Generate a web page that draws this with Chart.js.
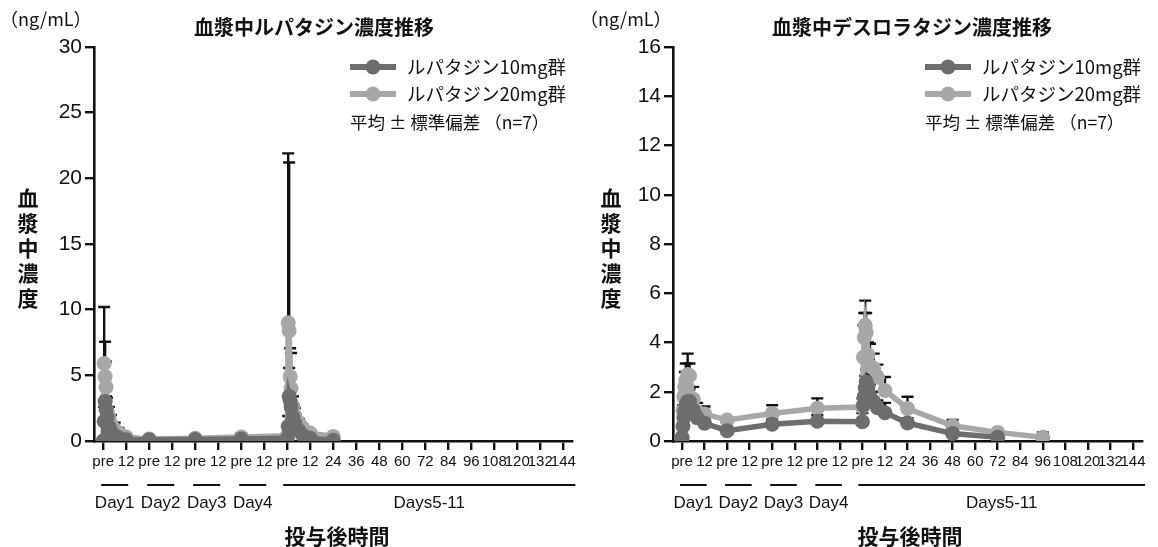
<!DOCTYPE html>
<html>
<head>
<meta charset="utf-8">
<script src="https://cdn.jsdelivr.net/npm/chart.js@4.4.1/dist/chart.umd.min.js"></script>
<style>
  html, body { margin: 0; padding: 0; background: #fff; }
  #wrap { position: relative; width: 1158px; height: 547px; overflow: hidden; }
  .panel { position: absolute; top: 0; height: 547px; }
  #pL { left: 0; width: 580px; }
  #pR { left: 580px; width: 578px; }
</style>
</head>
<body>
<div id="wrap">
  <div class="panel" id="pL"><canvas id="cL" width="580" height="547"></canvas></div>
  <div class="panel" id="pR"><canvas id="cR" width="578" height="547"></canvas></div>
</div>
<script>
// ---- shared axis text ----
const xTickLabels = ['pre','12','pre','12','pre','12','pre','12','pre','12',
  '24','36','48','60','72','84','96','108','120','132','144'];
const dayGroupLabels = ['Day1', 'Day2', 'Day3', 'Day4', 'Days5-11'];
const dayGroupFrom   = [0, 2, 4, 6, 8];
const dayGroupTo     = [1, 3, 5, 7, 20];
const seriesNames = ['ルパタジン10mg群', 'ルパタジン20mg群'];
const statNote = '平均 ± 標準偏差 （n=7）';
const yTitle = '血漿中濃度';
const xTitle = '投与後時間';
const unitText = '（ng/mL）';

// ---- sampling schedule (day of dosing, hours after dose) ----
const sampleDay  = [1,1,1,1,1,1,1,1,1,1, 2,3,4, 5,5,5,5,5,5,5,5,5,5, 5,5,5,5];
const sampleHour = [0,0.5,1,1.5,2,3,4,6,8,12, 0,0,0, 0,0.5,1,1.5,2,3,4,6,8,12, 24,48,72,96];

// ---- rupatadine (ng/mL) ----
const rupaTitle = '血漿中ルパタジン濃度推移';
const rupaYMax = 30, rupaYStep = 5;
const rupa10Mean = [0, 1.5, 3.0, 2.4, 1.8, 1.1, 0.7, 0.4, 0.25, 0.1,
  0.1, 0.12, 0.15,
  0.2, 1.1, 3.4, 3.1, 2.6, 1.8, 1.3, 0.8, 0.45, 0.2,
  0.05, null, null, null];
const rupa10SD = [0, 1.1, 1.8, 1.0, 0.8, 0.5, 0.3, 0.2, 0.1, 0.05,
  0.05, 0.05, 0.1,
  0.3, 0.8, 2.16, 0.7, 0.6, 0.5, 0.3, 0.2, 0.1, 0.08,
  0.02, null, null, null];
const rupa20Mean = [0, 5.9, 4.9, 4.1, 2.3, 1.8, 1.3, 0.9, 0.6, 0.3,
  0.15, 0.2, 0.3,
  0.4, 9.0, 8.4, 4.9, 4.0, 2.6, 1.9, 1.4, 1.0, 0.6,
  0.35, null, null, null];
const rupa20SD = [0, 4.3, 2.66, 1.94, 1.0, 0.8, 0.68, 0.5, 0.39, 0.15,
  0.1, 0.1, 0.3,
  0.7, 12.9, 12.8, 2.16, 2.7, 0.8, 0.6, 0.3, 0.25, 0.2,
  0.1, null, null, null];

// ---- desloratadine (ng/mL) ----
const deslTitle = '血漿中デスロラタジン濃度推移';
const deslYMax = 16, deslYStep = 2;
const desl10Mean = [0.15, 0.6, 0.95, 1.2, 1.45, 1.6, 1.6, 1.25, 0.95, 0.72,
  0.42, 0.68, 0.8,
  0.78, 1.45, 1.8, 2.15, 2.4, 2.2, 1.8, 1.6, 1.35, 1.15,
  0.73, 0.3, 0.15, null];
const desl10SD = [0, 0.3, 0.35, 0.4, 0.4, 0.55, 0.5, 0.35, 0.25, 0.2,
  0.15, 0.2, 0.25,
  0.35, 0.3, 0.4, 0.5, 0.5, 0.5, 0.5, 0.4, 0.3, 0.4,
  0.2, 0.15, 0.08, null];
const desl20Mean = [0.1, 1.25, 1.8, 2.2, 2.45, 2.7, 2.65, 1.7, 1.2, 1.1,
  0.85, 1.12, 1.33,
  1.38, 3.4, 4.2, 4.7, 4.4, 3.5, 3.05, 2.95, 2.6, 2.05,
  1.32, 0.62, 0.35, 0.15];
const desl20SD = [0, 0.2, 0.4, 0.6, 0.7, 0.85, 0.5, 0.5, 0.35, 0.3,
  0.1, 0.33, 0.4,
  0.35, 1.3, 1.0, 1.0, 0.8, 0.5, 0.9, 0.6, 0.5, 0.55,
  0.48, 0.23, 0.1, 0.2];

const color10 = '#6d6d6d';
const color20 = '#a7a7a7';
const inkColor = '#111111';
const jpFont = '"Noto Sans CJK JP", "Noto Sans", sans-serif';
const numFont = '"Liberation Sans Narrow", "Liberation Sans", Arial, sans-serif';

// x position: two axis units per dosing day (pre, 12 h), 12 h per unit
function xOf(i) { return (sampleDay[i] - 1) * 2 + sampleHour[i] / 12; }

function points(mean, sd) {
  const out = [];
  for (let i = 0; i < mean.length; i++) {
    if (mean[i] === null) continue;
    out.push({ x: xOf(i), y: mean[i], sd: sd[i] });
  }
  return out;
}

// upward-only SD whiskers with a cap, drawn beneath the markers
const sdWhiskers = {
  id: 'sdWhiskers',
  beforeDatasetsDraw(chart) {
    const { ctx, chartArea, scales } = chart;
    ctx.save();
    ctx.beginPath();
    ctx.rect(chartArea.left, chartArea.top - 2, chartArea.right - chartArea.left, chartArea.bottom - chartArea.top + 2);
    ctx.clip();
    ctx.strokeStyle = inkColor;
    ctx.lineWidth = 2.4;
    chart.data.datasets.forEach(ds => {
      ds.data.forEach(p => {
        if (!p.sd) return;
        const px = scales.x.getPixelForValue(p.x);
        const y0 = scales.y.getPixelForValue(p.y);
        const y1 = scales.y.getPixelForValue(p.y + p.sd);
        ctx.beginPath();
        ctx.moveTo(px, y0);
        ctx.lineTo(px, y1);
        ctx.moveTo(px - 6, y1);
        ctx.lineTo(px + 6, y1);
        ctx.stroke();
      });
    });
    ctx.restore();
  }
};

// titles, unit, legend, stacked y title, day brackets, x title
const annotations = {
  id: 'annotations',
  afterDraw(chart, args, o) {
    const { ctx, scales } = chart;
    const xs = scales.x;
    ctx.save();
    ctx.fillStyle = inkColor;
    ctx.textBaseline = 'middle';

    // unit
    ctx.font = '18px ' + jpFont;
    ctx.textAlign = 'left';
    ctx.fillText(unitText, o.unitX, 19);

    // chart title
    ctx.font = 'bold 20px ' + jpFont;
    ctx.textAlign = 'center';
    ctx.fillText(o.title, o.titleX, 27);

    // legend
    const lx = o.legendX;
    const rows = [{ c: color10, t: seriesNames[0], y: 67 }, { c: color20, t: seriesNames[1], y: 94 }];
    rows.forEach(r => {
      ctx.strokeStyle = r.c;
      ctx.lineWidth = 6;
      ctx.beginPath();
      ctx.moveTo(lx, r.y);
      ctx.lineTo(lx + 46, r.y);
      ctx.stroke();
      ctx.fillStyle = r.c;
      ctx.beginPath();
      ctx.arc(lx + 23, r.y, 7.5, 0, Math.PI * 2);
      ctx.fill();
      ctx.fillStyle = inkColor;
      ctx.font = '18.5px ' + jpFont;
      ctx.textAlign = 'left';
      ctx.fillText(r.t, lx + 57, r.y);
    });
    ctx.font = '17.5px ' + jpFont;
    ctx.fillText(statNote, lx, 122);

    // stacked vertical y title
    ctx.font = 'bold 21px ' + jpFont;
    ctx.textAlign = 'center';
    for (let k = 0; k < yTitle.length; k++) {
      ctx.fillText(yTitle[k], o.yTitleX, 198 + k * 25);
    }

    // day brackets under the tick labels
    ctx.strokeStyle = inkColor;
    ctx.lineWidth = 2;
    ctx.font = '17px ' + numFont;
    for (let g = 0; g < dayGroupLabels.length; g++) {
      const last = g === dayGroupLabels.length - 1;
      const a = xs.getPixelForValue(dayGroupFrom[g]) - (last ? 4 : 2);
      const b = xs.getPixelForValue(dayGroupTo[g]) + (last ? 12 : 2);
      ctx.beginPath();
      ctx.moveTo(a, 485);
      ctx.lineTo(b, 485);
      ctx.stroke();
      ctx.fillText(dayGroupLabels[g], (a + b) / 2, 503);
    }

    // x title
    ctx.font = 'bold 21px ' + jpFont;
    ctx.fillText(xTitle, o.xTitleX, 536);
    ctx.restore();
  }
};

function makeChart(canvasId, cfg) {
  return new Chart(document.getElementById(canvasId), {
    type: 'line',
    data: {
      datasets: [
        { label: seriesNames[0], data: points(cfg.m10, cfg.s10), borderColor: color10, backgroundColor: color10,
          pointBackgroundColor: color10, pointBorderWidth: 0, pointRadius: 7.5, borderWidth: 5.5, tension: 0 },
        { label: seriesNames[1], data: points(cfg.m20, cfg.s20), borderColor: color20, backgroundColor: color20,
          pointBackgroundColor: color20, pointBorderWidth: 0, pointRadius: 7.5, borderWidth: 5.5, tension: 0 }
      ]
    },
    options: {
      responsive: false,
      animation: false,
      layout: { padding: { left: 0, right: cfg.padRight, top: 47, bottom: 0 } },
      plugins: {
        legend: { display: false },
        tooltip: { enabled: false },
        annotations: cfg.notes
      },
      scales: {
        x: {
          type: 'linear',
          min: -0.4, max: 20.4,
          afterBuildTicks: s => { s.ticks = xTickLabels.map((_, i) => ({ value: i })); },
          afterFit: s => { s.height = 106; },
          grid: { drawOnChartArea: false, drawTicks: true, tickLength: 9, color: inkColor, lineWidth: 2.4 },
          border: { color: inkColor, width: 2.6 },
          ticks: {
            autoSkip: false, maxRotation: 0, padding: 3, color: inkColor,
            font: { family: numFont, size: 15 },
            callback: v => xTickLabels[v]
          }
        },
        y: {
          min: 0, max: cfg.yMax,
          afterFit: s => { s.width = cfg.yAxisX; },
          grid: { drawOnChartArea: false, drawTicks: true, tickLength: 9, color: inkColor, lineWidth: 2.4 },
          border: { color: inkColor, width: 2.6 },
          ticks: { stepSize: cfg.yStep, padding: 3, color: inkColor, font: { family: numFont, size: 21 } }
        }
      }
    },
    plugins: [sdWhiskers, annotations]
  });
}

makeChart('cL', {
  m10: rupa10Mean, s10: rupa10SD, m20: rupa20Mean, s20: rupa20SD,
  yMax: rupaYMax, yStep: rupaYStep, yAxisX: 94, padRight: 4,
  notes: { unitX: 0, title: rupaTitle, titleX: 314, legendX: 350, yTitleX: 28, xTitleX: 337 }
});
makeChart('cR', {
  m10: desl10Mean, s10: desl10SD, m20: desl20Mean, s20: desl20SD,
  yMax: deslYMax, yStep: deslYStep, yAxisX: 93, padRight: 16,
  notes: { unitX: 0, title: deslTitle, titleX: 332, legendX: 345, yTitleX: 31, xTitleX: 330 }
});
</script>
</body>
</html>
